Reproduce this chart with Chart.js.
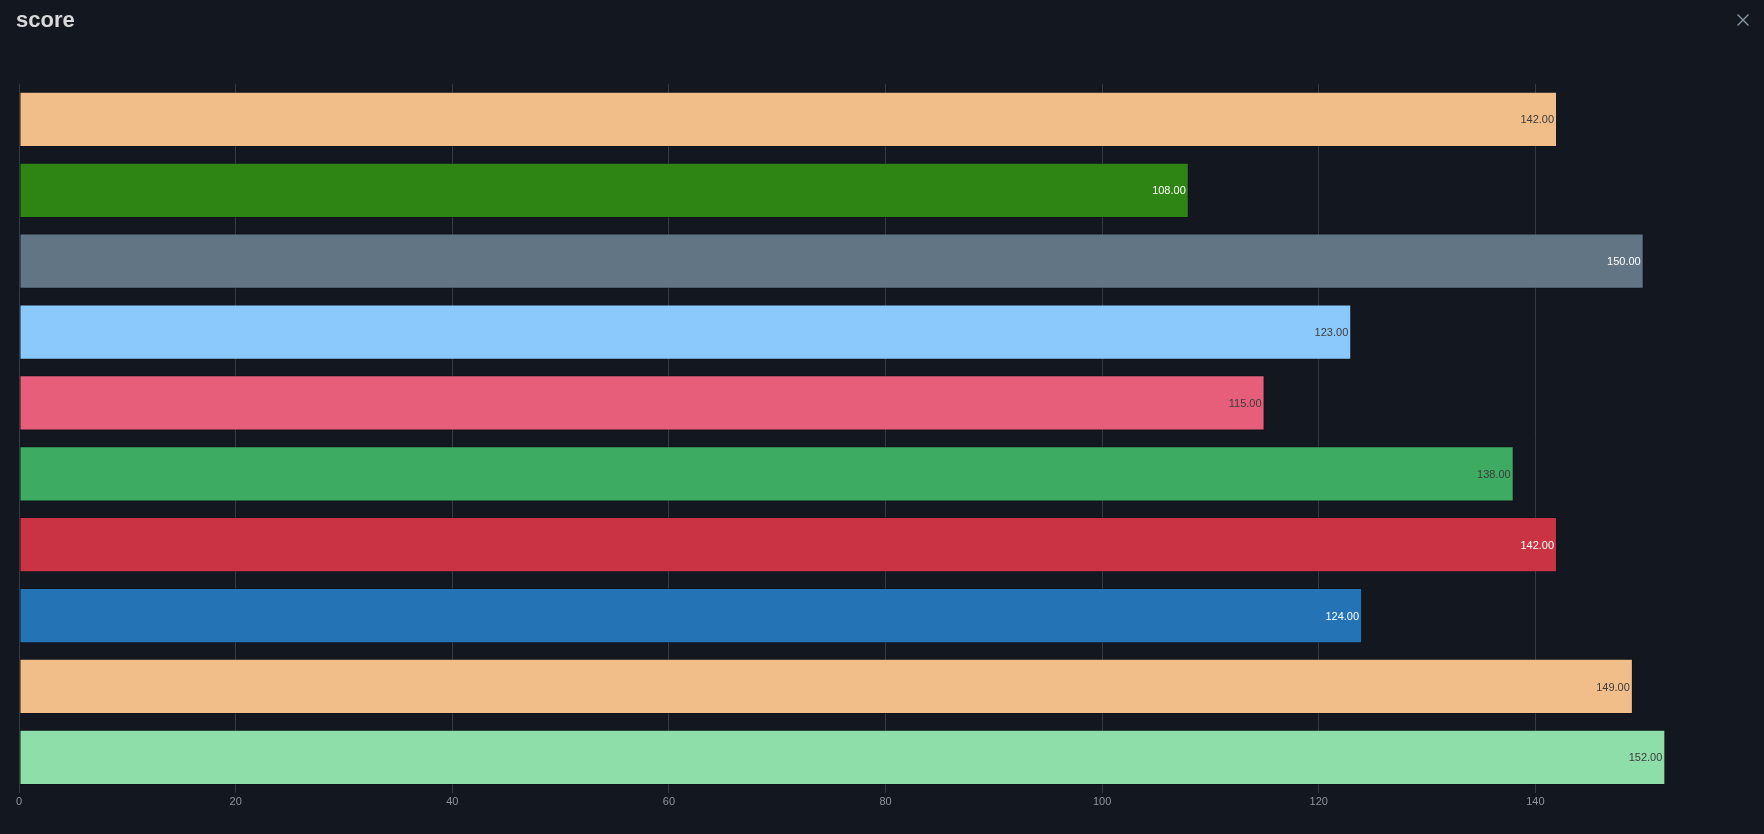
<!DOCTYPE html>
<html>
<head>
<meta charset="utf-8">
<script src="https://cdn.jsdelivr.net/npm/chart.js@4/dist/chart.umd.min.js"></script>
<style>
  html, body {
    margin: 0;
    padding: 0;
    background: #13171f;
    overflow: hidden;
  }
  #wrap {
    position: relative;
    width: 1764px;
    height: 834px;
  }
  #title {
    position: absolute;
    left: 16px;
    top: 7px;
    font: bold 22px "Liberation Sans", Arial, sans-serif;
    color: #d8d9da;
  }
  #close {
    position: absolute;
    left: 1736px;
    top: 13px;
    width: 14px;
    height: 14px;
  }
  #chart {
    position: absolute;
    left: 0;
    top: 0;
  }
</style>
</head>
<body>
<div id="wrap">
  <canvas id="chart" width="1764" height="834"></canvas>
  <div id="title">score</div>
  <svg id="close" viewBox="0 0 14 14">
    <path d="M1.5 1.5 L12.5 12.5 M12.5 1.5 L1.5 12.5" stroke="#8a96a3" stroke-width="1.4" fill="none"/>
  </svg>
</div>
<script>
// data
const categories = ["1", "2", "3", "4", "5", "6", "7", "8", "9", "10"];
const scores = [142, 108, 150, 123, 115, 138, 142, 124, 149, 152];
const barColors = [
  "#f1be89", "#2e8513", "#627585", "#8bc9fd", "#e75e7a",
  "#3eab62", "#c93343", "#2473b4", "#f1be89", "#8ddea8"
];
const labelColors = [
  "#3c3c3c", "#ffffff", "#ffffff", "#3c3c3c", "#3c3c3c",
  "#3c3c3c", "#ffffff", "#ffffff", "#3c3c3c", "#3c3c3c"
];
const tickMax = 140;

// value text inside the bar end
const valueLabels = {
  id: "valueLabels",
  afterDatasetsDraw(chart) {
    const ctx = chart.ctx;
    const meta = chart.getDatasetMeta(0);
    ctx.save();
    ctx.font = "11px 'Liberation Sans', Arial, sans-serif";
    ctx.textAlign = "right";
    ctx.textBaseline = "middle";
    meta.data.forEach((bar, i) => {
      ctx.fillStyle = labelColors[i];
      ctx.fillText(scores[i].toFixed(2), bar.x - 3, bar.y + 1);
    });
    ctx.restore();
  },
};

new Chart(document.getElementById("chart"), {
  type: "bar",
  data: {
    labels: categories,
    datasets: [
      {
        data: scores,
        backgroundColor: barColors,
        borderColor: "rgba(0,0,0,0.2)",
        borderWidth: 1,
        borderSkipped: false,
        barPercentage: 0.78,
        categoryPercentage: 1,
      },
    ],
  },
  options: {
    indexAxis: "y",
    responsive: false,
    animation: false,
    layout: {
      padding: { top: 84, left: 19, right: 12, bottom: 22 },
    },
    plugins: {
      legend: { display: false },
      tooltip: { enabled: false },
    },
    scales: {
      x: {
        min: 0,
        max: 160,
        afterBuildTicks(scale) {
          scale.ticks = scale.ticks.filter((t) => t.value <= tickMax);
        },
        grid: {
          color: "#363a43",
          drawTicks: false,
        },
        border: { display: false },
        ticks: {
          stepSize: 20,
          padding: 3,
          color: "#8e949b",
          font: { size: 11, family: "'Liberation Sans', Arial, sans-serif" },
        },
      },
      y: {
        display: false,
      },
    },
  },
  plugins: [valueLabels],
});
</script>
</body>
</html>
